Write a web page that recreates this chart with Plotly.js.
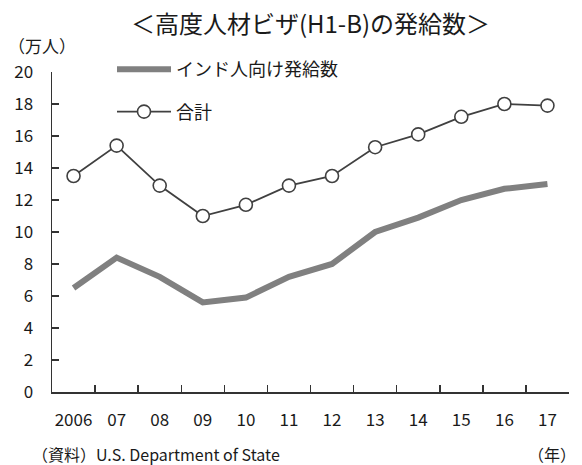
<!DOCTYPE html>
<html>
<head>
<meta charset="utf-8">
<script src="https://cdn.plot.ly/plotly-3.0.1.min.js"></script>
<style>
  html, body { margin: 0; padding: 0; background: #fff; }
  #chart { width: 582px; height: 465px; }
</style>
</head>
<body>
<div id="chart"></div>
<script>
// H-1B visas issued per fiscal year (unit: 10,000 people)
const years = ['2006', '07', '08', '09', '10', '11', '12', '13', '14', '15', '16', '17'];
const indiaIssued = [6.5, 8.4, 7.2, 5.6, 5.9, 7.2, 8.0, 10.0, 10.9, 12.0, 12.7, 13.0];
const totalIssued = [13.5, 15.4, 12.9, 11.0, 11.7, 12.9, 13.5, 15.3, 16.1, 17.2, 18.0, 17.9];
const yTicks = [0, 2, 4, 6, 8, 10, 12, 14, 16, 18, 20];

const FONT = '"Noto Sans CJK JP", "Noto Sans", sans-serif';
const INK = '#1a1a1a';
const AXIS = '#333333';

// plot-area geometry in pixels, used to place the free-floating labels
const L = 52, R = 13, T = 72, B = 73;
const PW = 582 - L - R, PH = 465 - T - B;
const px = v => (v - L) / PW;
const py = v => (465 - B - v) / PH;

const traces = [
  {
    x: years, y: indiaIssued, name: 'インド人向け発給数', legendgroup: 'india',
    type: 'scatter', mode: 'lines',
    line: { color: '#808080', width: 6 },
    hoverinfo: 'skip'
  },
  {
    x: years, y: totalIssued, name: '合計', legendgroup: 'total',
    type: 'scatter', mode: 'lines+markers',
    line: { color: '#404040', width: 1.8 },
    marker: { symbol: 'circle', size: 13, color: '#ffffff', line: { color: '#404040', width: 1.6 } },
    hoverinfo: 'skip'
  }
];

const layout = {
  width: 582, height: 465,
  margin: { l: L, r: R, t: T, b: B },
  paper_bgcolor: '#ffffff', plot_bgcolor: '#ffffff',
  font: { family: FONT, color: INK, size: 17 },
  title: {
    text: '＜高度人材ビザ(H1-B)の発給数＞',
    font: { family: FONT, size: 24, color: INK },
    xref: 'paper', x: 0.5, xanchor: 'center',
    yref: 'container', y: 1 - 25 / 465, yanchor: 'middle'
  },
  showlegend: true,
  legend: {
    x: px(112), y: py(51), xanchor: 'left', yanchor: 'top',
    bgcolor: 'rgba(0,0,0,0)',
    font: { family: FONT, size: 18, color: INK },
    itemwidth: 54,
    tracegroupgap: 16,
    traceorder: 'grouped'
  },
  xaxis: {
    type: 'category',
    categoryorder: 'array', categoryarray: years,
    range: [-0.5, years.length - 0.5],
    showline: true, linecolor: AXIS, linewidth: 1.5,
    ticks: 'inside', tickson: 'boundaries', ticklen: 7, tickwidth: 1.5, tickcolor: AXIS,
    showgrid: false, zeroline: false,
    tickangle: 0,
    tickfont: { family: FONT, size: 17, color: INK },
    ticklabelstandoff: 12,
    fixedrange: true
  },
  yaxis: {
    range: [0, 20],
    tickmode: 'array', tickvals: yTicks, ticktext: yTicks.map(String),
    showline: true, linecolor: AXIS, linewidth: 1.5,
    ticks: 'inside', ticklen: 7, tickwidth: 1.5, tickcolor: AXIS,
    showgrid: false, zeroline: false,
    tickfont: { family: FONT, size: 17, color: INK },
    ticklabelstandoff: 14,
    fixedrange: true
  },
  annotations: [
    {
      text: '（万人）', showarrow: false,
      xref: 'paper', yref: 'paper', x: px(6), y: py(46),
      xanchor: 'left', yanchor: 'middle',
      font: { family: FONT, size: 17, color: INK }
    },
    {
      text: '（資料）U.S. Department of State', showarrow: false,
      xref: 'paper', yref: 'paper', x: px(30), y: py(454),
      xanchor: 'left', yanchor: 'middle',
      font: { family: FONT, size: 16, color: INK }
    },
    {
      text: '（年）', showarrow: false,
      xref: 'paper', yref: 'paper', x: px(578), y: py(454),
      xanchor: 'right', yanchor: 'middle',
      font: { family: FONT, size: 16, color: INK }
    }
  ]
};

Plotly.newPlot('chart', traces, layout, { displayModeBar: false, staticPlot: true });
</script>
</body>
</html>
